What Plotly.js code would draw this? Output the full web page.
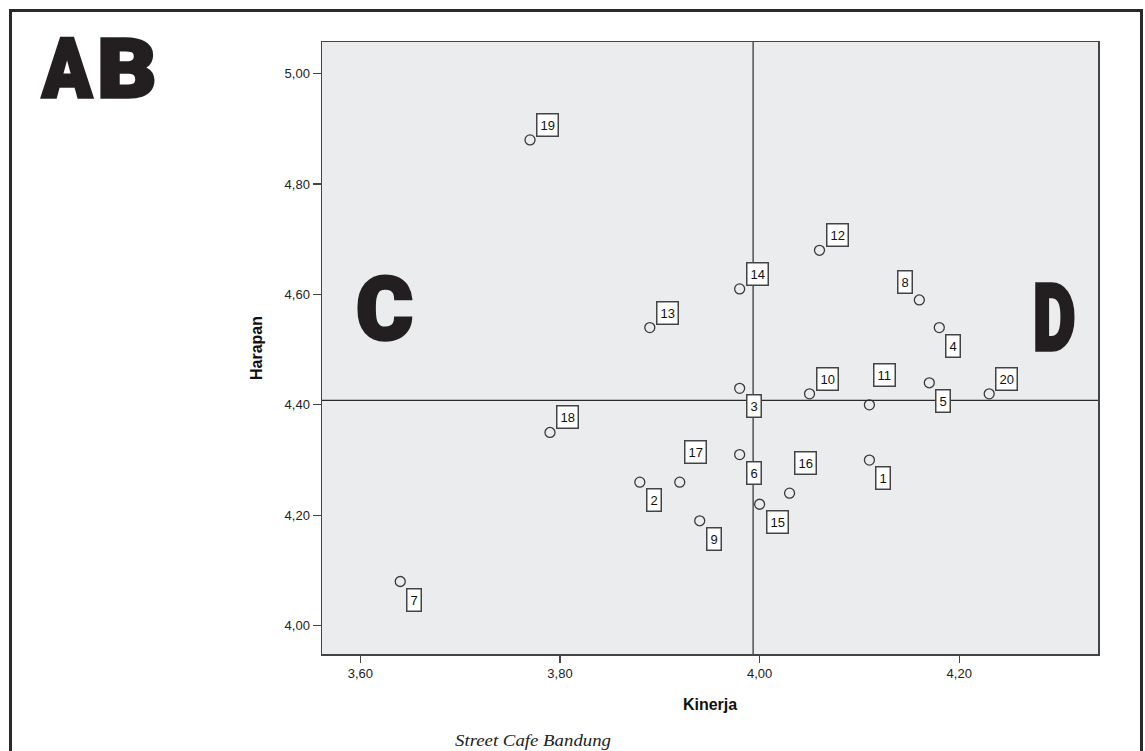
<!DOCTYPE html>
<html>
<head>
<meta charset="utf-8">
<script src="https://cdn.plot.ly/plotly-3.0.1.min.js"></script>
<style>
  html, body { margin: 0; padding: 0; width: 1145px; height: 751px; overflow: hidden; background: #ffffff; }
  #frame { position: absolute; left: 9px; top: 9px; width: 1134px; height: 800px; box-sizing: border-box; border: 3px solid #2a2a2a; }
  #chart { position: absolute; left: 0; top: 0; width: 1145px; height: 751px; }
  #overlay { position: absolute; left: 0; top: 0; width: 1145px; height: 751px; pointer-events: none; }
</style>
</head>
<body>
<div id="frame"></div>
<div id="chart"></div>
<svg id="overlay" xmlns="http://www.w3.org/2000/svg" width="1145" height="751"></svg>
<script>
// ---- data ----
const caseIds  = ['1','2','3','4','5','6','7','8','9','10','11','12','13','14','15','16','17','18','19','20'];
const kinerja  = [4.11, 3.88, 3.98, 4.18, 4.17, 3.98, 3.64, 4.16, 3.94, 4.05, 4.11, 4.06, 3.89, 3.98, 4.00, 4.03, 3.92, 3.79, 3.77, 4.23];
const harapan  = [4.30, 4.26, 4.43, 4.54, 4.44, 4.31, 4.08, 4.59, 4.19, 4.42, 4.40, 4.68, 4.54, 4.61, 4.22, 4.24, 4.26, 4.35, 4.88, 4.42];
const xTickVals = [3.6, 3.8, 4.0, 4.2];
const xTickText = ['3,60', '3,80', '4,00', '4,20'];
const yTickVals = [4.0, 4.2, 4.4, 4.6, 4.8, 5.0];
const yTickText = ['4,00', '4,20', '4,40', '4,60', '4,80', '5,00'];
const xTitle = 'Kinerja';
const yTitle = 'Harapan';
const cornerLabel = 'AB';
const quadLeft = 'C';
const quadRight = 'D';
const caption = 'Street Cafe Bandung';

// ---- label placement (style only) ----
const placement = {'1':'br','2':'br','3':'br','4':'br','5':'br','6':'br','7':'br','9':'br','15':'br',
                   '8':'tl','11':'tr2','16':'tr2','17':'tr2'};
const placeStyle = {
  tr:  {xanchor:'left',  yanchor:'bottom', xshift: 6,  yshift: 3},
  tr2: {xanchor:'left',  yanchor:'bottom', xshift: 4,  yshift: 18},
  br:  {xanchor:'left',  yanchor:'top',    xshift: 6,  yshift: -6},
  tl:  {xanchor:'right', yanchor:'bottom', xshift: -6, yshift: 6}
};

const mean = a => a.reduce((s, v) => s + v, 0) / a.length;
const xMean = mean(kinerja);
const yMean = mean(harapan);

const annotations = caseIds.map((id, i) => {
  const p = placeStyle[placement[id] || 'tr'];
  return Object.assign({
    x: kinerja[i], y: harapan[i], xref: 'x', yref: 'y',
    text: id, showarrow: false,
    font: {family: 'Liberation Sans, Arial, sans-serif', size: 13, color: '#111111'},
    bgcolor: '#ffffff', bordercolor: '#444444', borderwidth: 1.5, borderpad: 3
  }, p);
});

const trace = {
  type: 'scatter', mode: 'markers',
  x: kinerja, y: harapan, text: caseIds,
  marker: {symbol: 'circle-open', size: 10, color: '#3a3a3a', line: {width: 1.3}},
  hoverinfo: 'text+x+y'
};

const axisFont = {family: 'Liberation Sans, Arial, sans-serif', size: 13, color: '#222222'};
const titleFont = {family: 'Liberation Sans Narrow, Liberation Sans, Arial, sans-serif', size: 16, color: '#111111', weight: 'bold'};

const layout = {
  width: 1145, height: 751,
  margin: {l: 322, r: 47, t: 42, b: 97, pad: 0},
  paper_bgcolor: 'rgba(0,0,0,0)',
  plot_bgcolor: '#EBECEE',
  showlegend: false,
  xaxis: {
    range: [3.5616, 4.339], autorange: false,
    tickvals: xTickVals, ticktext: xTickText,
    ticks: 'outside', ticklen: 7, tickwidth: 1.2, tickcolor: '#444444',
    showline: true, mirror: true, linecolor: '#444444', linewidth: 1.5,
    showgrid: false, zeroline: false,
    tickfont: axisFont,
    title: {text: xTitle, font: titleFont, standoff: 18}
  },
  yaxis: {
    range: [3.9487, 5.0573], autorange: false,
    tickvals: yTickVals, ticktext: yTickText,
    ticks: 'outside', ticklen: 8, tickwidth: 1.2, tickcolor: '#444444',
    showline: true, mirror: true, linecolor: '#444444', linewidth: 1.5,
    showgrid: false, zeroline: false,
    tickfont: axisFont,
    title: {text: yTitle, font: titleFont, standoff: 18}
  },
  shapes: [
    {type: 'line', xref: 'x', yref: 'paper', x0: xMean, x1: xMean, y0: 0, y1: 1, line: {color: '#3a3a3a', width: 1.3}},
    {type: 'line', xref: 'paper', yref: 'y', x0: 0, x1: 1, y0: yMean, y1: yMean, line: {color: '#2a2a2a', width: 1.3}}
  ],
  annotations: annotations
};

Plotly.newPlot('chart', [trace], layout, {displayModeBar: false, staticPlot: true});

// ---- big letters & caption as real SVG text, fitted to their boxes ----
const svg = document.getElementById('overlay');
const NS = 'http://www.w3.org/2000/svg';
const ctx = document.createElement('canvas').getContext('2d');
function fitText(text, family, weight, box, color, sw) {
  const fs = 100;
  ctx.font = weight + ' ' + fs + 'px ' + family;
  const m = ctx.measureText(text);
  const w = m.actualBoundingBoxLeft + m.actualBoundingBoxRight + sw;
  const h = m.actualBoundingBoxAscent + m.actualBoundingBoxDescent + sw;
  const sx = box.w / w, sy = box.h / h;
  const t = document.createElementNS(NS, 'text');
  t.setAttribute('x', 0); t.setAttribute('y', 0);
  t.setAttribute('font-family', family);
  t.setAttribute('font-weight', weight);
  t.setAttribute('font-size', fs);
  t.setAttribute('fill', color);
  t.setAttribute('stroke', color);
  t.setAttribute('stroke-width', sw);
  t.setAttribute('stroke-linejoin', 'miter');
  const tx = box.x + (m.actualBoundingBoxLeft + sw / 2) * sx;
  const ty = box.y + (m.actualBoundingBoxAscent + sw / 2) * sy;
  t.setAttribute('transform', 'translate(' + tx + ',' + ty + ') scale(' + sx + ',' + sy + ')');
  t.textContent = text;
  svg.appendChild(t);
}
const heavy = 'Roboto, Inter, "DejaVu Sans", sans-serif';
// "AB": each letter fitted to its own box so the gap between them stays open
fitText(cornerLabel.charAt(0), heavy, 900, {x: 40, y: 37, w: 54, h: 62}, '#231f20', 4);
fitText(cornerLabel.charAt(1), heavy, 900, {x: 100, y: 37, w: 55, h: 62}, '#231f20', 4);
fitText(quadLeft, heavy, 900, {x: 357, y: 274, w: 56, h: 68}, '#231f20', 4);
fitText(quadRight, heavy, 900, {x: 1035, y: 282, w: 40, h: 70}, '#231f20', 4);

const cap = document.createElementNS(NS, 'text');
cap.setAttribute('x', 455); cap.setAttribute('y', 746);
cap.setAttribute('font-family', '"Liberation Serif", "DejaVu Serif", serif');
cap.setAttribute('font-style', 'italic');
cap.setAttribute('font-size', 17);
cap.setAttribute('fill', '#222222');
cap.setAttribute('textLength', 156);
cap.setAttribute('lengthAdjust', 'spacingAndGlyphs');
cap.textContent = caption;
svg.appendChild(cap);
</script>
</body>
</html>
